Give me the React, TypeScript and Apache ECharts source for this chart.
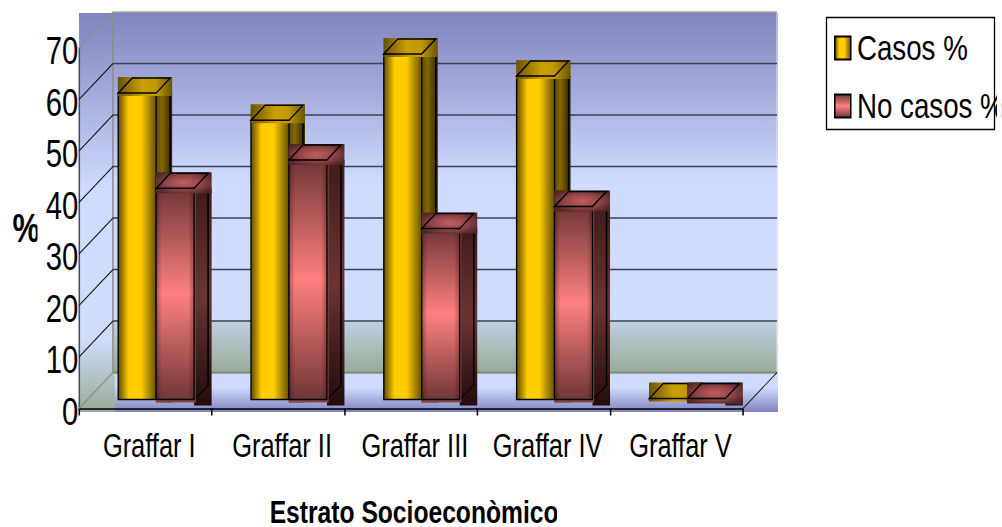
import React, { useEffect, useRef } from "react";
import * as echarts from "echarts";

const categories = ["Graffar I", "Graffar II", "Graffar III", "Graffar IV", "Graffar V"];
const casos = [59.5, 54.2, 67.1, 62.8, 0.2];
const noCasos = [41, 46.5, 33.2, 37.5, 0.2];
const gridTicks = [0, 10, 20, 30, 40, 50, 60, 70];

// The reference's text is condensed: the chart is laid out wider and squeezed horizontally.
const SX = 0.77;
const px = (x: number) => x / SX;
const PAGE_W = 1002, PAGE_H = 527;
const FONT = '"Liberation Sans", Arial, sans-serif';

const linear = (x: number, y: number, x2: number, y2: number, stops: [number, string][]) => ({
  type: "linear", x, y, x2, y2, global: false,
  colorStops: stops.map(([offset, color]) => ({ offset, color })),
});
const radial = (stops: [number, string][]) => ({
  type: "radial", x: 0.5, y: 0.5, r: 0.6, global: false,
  colorStops: stops.map(([offset, color]) => ({ offset, color })),
});

const goldFront = linear(0, 0, 1, 0, [[0, "#5e4a00"], [0.28, "#ffcc00"], [0.6, "#ffcc00"], [1, "#665000"]]);
const goldSide = linear(0, 0, 1, 0, [[0, "#5a4700"], [0.35, "#846900"], [0.8, "#4a3a00"], [1, "#2e2400"]]);
const goldTop = linear(0, 0, 1, 0, [[0, "#6a5200"], [0.45, "#c9a000"], [0.7, "#c09900"], [1, "#6a5200"]]);
const redFront = linear(0, 0, 0, 1, [[0, "#703636"], [0.5, "#ff8080"], [1, "#703636"]]);
const redEdge = linear(0, 0, 1, 0, [[0, "rgba(40,10,10,0.35)"], [0.15, "rgba(40,10,10,0)"], [0.85, "rgba(40,10,10,0)"], [1, "rgba(40,10,10,0.35)"]]);
const redSide = linear(0, 0, 0, 1, [[0, "#3f1c1c"], [0.5, "#6b3434"], [1, "#210c0c"]]);
const redTop = radial([[0, "#c45e62"], [0.55, "#8f4446"], [1, "#4e2626"]]);

const DX = px(14), DY = 15; // bar depth
const BACK_DX = px(34), BACK_DY = 36; // wall depth

function barRenderer(kind: "gold" | "red") {
  return (params: any, api: any) => {
    const idx = api.value(0);
    const base = api.coord([idx, 0]);
    const top = api.coord([idx, api.value(1)]);
    const band = api.size([1, 0])[0];
    const w = band * 0.286;
    const x = base[0] + band * (kind === "gold" ? -0.205 : 0.081);
    const yB = base[1] - 9;
    const yT = top[1] - 9;
    const h = yB - yT;
    const below = kind === "red" ? 5 : 3;
    const ext = kind === "red" ? px(3.5) : px(2);
    const children: any[] = [];
    children.push({ type: "rect", shape: { x: x + w, y: yT, width: DX + ext, height: h + below + (kind === "red" ? 1 : 0) }, style: { fill: kind === "gold" ? goldSide : redSide } });
    children.push({ type: "line", shape: { x1: x + w + DX, y1: yT, x2: x + w + DX, y2: kind === "red" ? yB - 14 : yB }, style: { stroke: "#000", lineWidth: 2 } });
    if (kind === "red") {
      children.push({ type: "line", shape: { x1: x + w, y1: yB, x2: x + w + DX, y2: yB - 14 }, style: { stroke: "#000", lineWidth: 1.2 } });
    }
    if (h > 0) {
      if (kind === "red") {
        children.push({ type: "rect", shape: { x: x - 0.5, y: yT, width: w + px(2), height: h + 3 }, style: { fill: "#8a4646" } });
      }
      children.push({ type: "rect", shape: { x, y: yT, width: w, height: h }, style: { fill: kind === "gold" ? goldFront : redFront } });
      if (kind === "red") children.push({ type: "rect", shape: { x, y: yT, width: w, height: h }, style: { fill: redEdge } });
      children.push({ type: "rect", shape: { x, y: yT, width: w, height: h }, style: { fill: "none", stroke: "#000", lineWidth: 1.7 } });
    }
    children.push({ type: "rect", shape: { x: x - 0.5, y: yT - DY - 1, width: w + DX + ext + 0.5, height: DY + 1 + below }, style: { fill: kind === "gold" ? goldTop : redTop } });
    children.push({
      type: "polygon",
      shape: { points: [[x, yT], [x + DX, yT - DY], [x + w + DX, yT - DY], [x + w, yT]] },
      style: { fill: "none", stroke: "#000", lineWidth: 1.5 },
    });
    return { type: "group", children };
  };
}

function wallRenderer(params: any, api: any) {
  const v = api.value(0);
  const front0 = api.coord([0, v]);
  const band = api.size([1, 0])[0];
  const fx = front0[0] - band / 2;
  const fy = front0[1];
  const grey = v === 0 || v === 70;
  const endX = fx + band * 5 + BACK_DX;
  const backColor = v === 70 ? "#a8a8a8" : v === 0 ? "#808a80" : "#3a4055";
  return {
    type: "group",
    children: [
      { type: "line", shape: { x1: fx, y1: fy, x2: fx + BACK_DX, y2: fy - BACK_DY }, style: { stroke: grey ? "#8c8c8c" : "#111", lineWidth: grey ? 1.6 : 1.1 } },
      { type: "line", shape: { x1: fx + BACK_DX, y1: fy - BACK_DY, x2: endX, y2: fy - BACK_DY }, style: { stroke: backColor, lineWidth: v === 0 ? 2 : 1.5 } },
      ...(v === 0 ? [{ type: "line", shape: { x1: endX - BACK_DX, y1: fy, x2: endX, y2: fy - BACK_DY }, style: { stroke: "#222", lineWidth: 1.1 } }] : []),
    ],
  };
}

export default function App() {
  const ref = useRef<HTMLDivElement>(null);
  useEffect(() => {
    const chart = echarts.init(ref.current!, undefined, { renderer: "svg" });
    chart.setOption({
      animation: false,
      backgroundColor: "#fff",
      textStyle: { fontFamily: FONT },
      grid: { left: px(79), top: 48, width: px(664), height: 360.5, outerBoundsMode: "none" },
      xAxis: {
        type: "category", data: categories,
        name: "Estrato Socioeconòmico", nameLocation: "middle", nameGap: 87,
        nameTextStyle: { fontFamily: FONT, fontSize: 32, fontWeight: "bold", color: "#000", padding: [0, 0, 0, 8] },
        axisLine: { lineStyle: { color: "#000", width: 1.5 } },
        axisTick: { show: true, length: 7, lineStyle: { color: "#000", width: 2 }, alignWithLabel: false },
        axisLabel: { fontFamily: FONT, fontSize: 33, color: "#000", margin: 20, interval: 0, padding: [0, 0, 0, 10] },
      },
      yAxis: {
        type: "value", min: 0, max: 70, interval: 10,
        name: "%", nameLocation: "middle", nameRotate: 0, nameGap: px(39),
        nameTextStyle: { fontFamily: FONT, fontSize: 40, fontWeight: "bold", color: "#000", padding: [0, 0, 4, 0] },
        axisLine: { show: true, lineStyle: { color: "#4a4a55", width: 2 } },
        axisTick: { show: false },
        splitLine: { show: false },
        axisLabel: { fontFamily: FONT, fontSize: 38, color: "#000", margin: 1, verticalAlign: "top", lineHeight: 6 },
      },
      legend: {
        left: px(826), top: 30, orient: "vertical", padding: [0, 0, 0, px(8)],
        icon: "rect", itemWidth: px(16), itemHeight: 23, itemGap: 22,
        data: ["Casos %", "No casos %"],
        textStyle: { fontFamily: FONT, fontSize: 36, color: "#000", padding: [0, 0, 0, 3] },
      },
      graphic: [
        { type: "rect", z: -10, shape: { x: px(79), y: 13, width: px(699), height: 399 }, style: { fill: linear(0, 0, 0, 1, [[0, "#8083bf"], [0.45, "#d0dcff"], [0.82, "#cfdcfb"], [1, "#98ab94"]]) } },
        { type: "rect", z: -9, shape: { x: px(113), y: 12, width: px(664), height: 361 }, style: { fill: linear(0, 0, 0, 1, [[0, "#8083bf"], [0.48, "#d0dcff"], [0.855, "#cfdcfb"], [0.857, "#bfd0e4"], [1, "#98ab94"]]) } },
        { type: "rect", z: -9, shape: { x: px(115), y: 374, width: px(663), height: 38 }, style: { fill: linear(0, 0, 0, 1, [[0, "#d0dcff"], [0.35, "#d0dcff"], [1, "#8083bf"]]) } },
        { type: "line", z: -5, shape: { x1: px(113), y1: 12, x2: px(113), y2: 373 }, style: { stroke: "#8c8c8c", lineWidth: 2 } },
        { type: "line", z: -5, shape: { x1: px(777), y1: 12, x2: px(777), y2: 373 }, style: { stroke: "#e8e8e8", lineWidth: 1.3 } },
        { type: "rect", z: 20, shape: { x: px(826.5), y: 17.5, width: px(168), height: 112 }, style: { fill: "none", stroke: "#000", lineWidth: 1.7 } },
        { type: "rect", z: 20, shape: { x: px(997), y: 0, width: px(5), height: 140 }, style: { fill: "#fff" } },
        { type: "rect", z: 20, shape: { x: px(37.5), y: 205, width: px(4), height: 45 }, style: { fill: "#fff" } },
        { type: "rect", z: 20, shape: { x: px(557), y: 490, width: px(6), height: 37 }, style: { fill: "#fff" } },
      ],
      series: [
        { type: "custom", name: "walls", silent: true, z: 1, data: gridTicks.map((v) => [v]), encode: { y: 0 }, renderItem: wallRenderer, clip: false },
        { type: "custom", name: "Casos %", z: 3, data: casos.map((v, i) => [i, v]), encode: { x: 0, y: 1 }, renderItem: barRenderer("gold"), itemStyle: { color: goldFront, borderColor: "#000", borderWidth: 1.7 }, clip: false },
        { type: "custom", name: "No casos %", z: 4, data: noCasos.map((v, i) => [i, v]), encode: { x: 0, y: 1 }, renderItem: barRenderer("red"), itemStyle: { color: redFront, borderColor: "#000", borderWidth: 1.7 }, clip: false },
      ],
    });
    return () => chart.dispose();
  }, []);
  return (
    <div style={{ width: PAGE_W, height: PAGE_H, position: "absolute", left: 0, top: 0, overflow: "hidden" }}>
      <div ref={ref} style={{ width: PAGE_W / SX, height: PAGE_H, transform: `scaleX(${SX})`, transformOrigin: "0 0" }} />
    </div>
  );
}
